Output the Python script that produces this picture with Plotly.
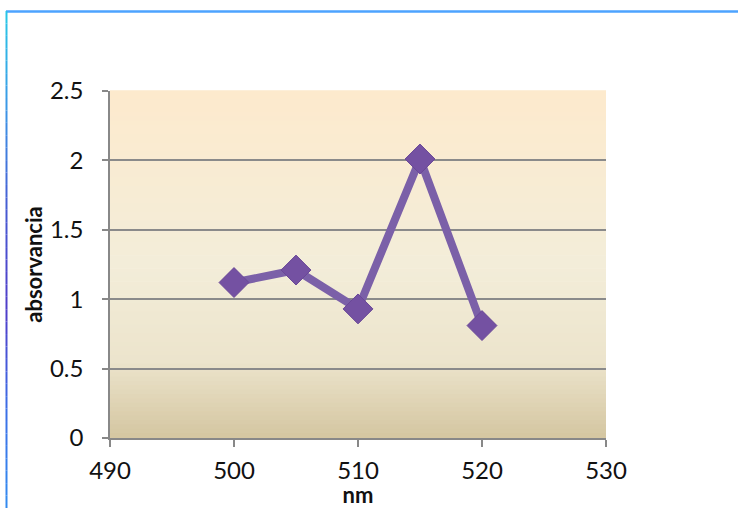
import plotly.graph_objects as go

# Absorbance readings by wavelength
wavelength_nm = [500, 505, 510, 515, 520]
absorbance = [1.12, 1.21, 0.93, 2.01, 0.81]

x_ticks = [490, 500, 510, 520, 530]
y_ticks = [0, 0.5, 1, 1.5, 2, 2.5]
y_tick_text = ["0", "0.5", "1", "1.5", "2", "2.5"]

LINE_COLOR = "#7B60A8"
MARKER_COLOR = "#7451A2"
FONT = "Lato"

W, H = 738, 508
L, R, T, B = 110, 132, 91, 70
pw, ph = W - L - R, H - T - B


def px_x(p):
    return (p - L) / pw


def px_y(p):
    return (H - B - p) / ph


def lerp(c1, c2, t):
    return tuple(round(a + (b - a) * t) for a, b in zip(c1, c2))


# vertical gradient of the plot background (top -> bottom)
stops = [(0.0, (253, 234, 205)), (0.5, (243, 237, 217)), (0.78, (236, 228, 204)), (1.0, (212, 198, 161))]
shapes = []
n = 80
for i in range(n):
    t = (i + 0.5) / n
    for (t0, c0), (t1, c1) in zip(stops[:-1], stops[1:]):
        if t0 <= t <= t1:
            c = lerp(c0, c1, (t - t0) / (t1 - t0))
            break
    shapes.append(dict(
        type="rect", xref="x domain", yref="y domain",
        x0=0, x1=1, y0=1 - (i + 1) / n, y1=1 - i / n + 0.002,
        fillcolor="rgb(%d,%d,%d)" % c, line_width=0, layer="below",
    ))

# outer frame: top edge and left edge
shapes.append(dict(type="line", xref="paper", yref="paper",
                   x0=px_x(6), x1=px_x(740), y0=px_y(11.5), y1=px_y(11.5),
                   line=dict(color="#4DA3FF", width=2.5)))
left_cols = [(40, 200, 230), (60, 150, 230), (70, 90, 210), (80, 60, 200), (60, 110, 230), (50, 140, 240)]
seg = len(left_cols) - 1
top_px, bot_px = 11, 508
for i in range(seg):
    y0p = top_px + (bot_px - top_px) * i / seg
    y1p = top_px + (bot_px - top_px) * (i + 1) / seg
    k = 8
    for j in range(k):
        a = y0p + (y1p - y0p) * j / k
        b = y0p + (y1p - y0p) * (j + 1) / k
        c = lerp(left_cols[i], left_cols[i + 1], (j + 0.5) / k)
        shapes.append(dict(type="line", xref="paper", yref="paper",
                           x0=px_x(6.5), x1=px_x(6.5), y0=px_y(a), y1=px_y(b),
                           line=dict(color="rgb(%d,%d,%d)" % c, width=2)))

fig = go.Figure()
fig.add_trace(go.Scatter(
    x=wavelength_nm, y=absorbance, mode="lines+markers",
    line=dict(color=LINE_COLOR, width=8),
    marker=dict(symbol="diamond", size=23, color=MARKER_COLOR,
                line=dict(color="#6A4897", width=1)),
    showlegend=False, hoverinfo="skip",
))

fig.update_layout(
    width=W, height=H,
    margin=dict(l=L, r=R, t=T, b=B, autoexpand=False),
    paper_bgcolor="white",
    plot_bgcolor="rgba(0,0,0,0)",
    font=dict(family=FONT, size=24, color="#111"),
    shapes=shapes,
    xaxis=dict(
        range=[490, 530], tickvals=x_ticks, ticks="outside", ticklen=7,
        tickcolor="#888", tickwidth=1.5, showline=True, linecolor="#888", linewidth=1.5,
        showgrid=False, zeroline=False, ticklabelstandoff=3, automargin=False,
        title=dict(text="<b>nm</b>", font=dict(family=FONT, size=22, color="#111"), standoff=0),
    ),
    yaxis=dict(
        range=[0, 2.5], tickvals=y_ticks, ticktext=y_tick_text, ticks="outside", ticklen=6,
        tickcolor="#888", tickwidth=1.5, showline=True, linecolor="#888", linewidth=1.5,
        showgrid=True, gridcolor="#8a8a8a", gridwidth=1.5, zeroline=False,
        ticklabelstandoff=14, automargin=False,
        title=dict(text="<b>absorvancia</b>", font=dict(family=FONT, size=22, color="#111"), standoff=1),
    ),
)

fig.write_html("out.html")
